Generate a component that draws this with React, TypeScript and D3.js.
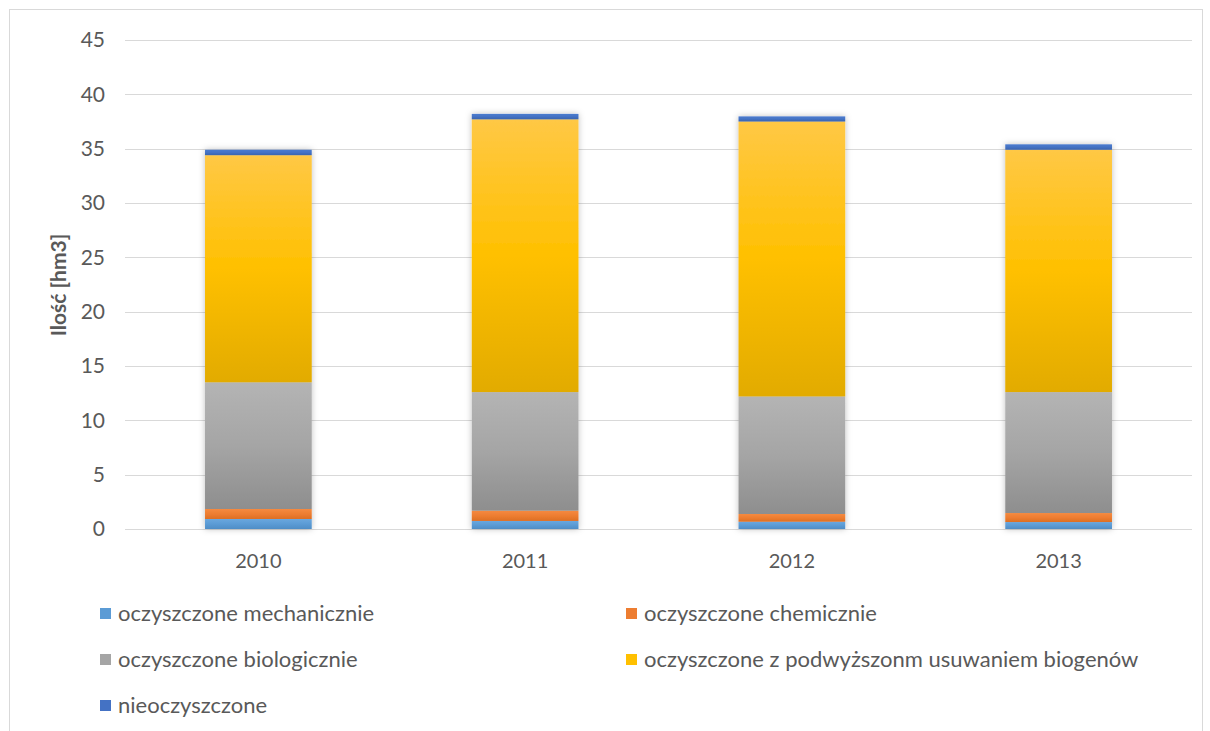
import React from "react";
import * as d3 from "d3";

const years = ["2010", "2011", "2012", "2013"];
const mechaniczne = [0.92, 0.74, 0.67, 0.64];
const chemiczne = [0.92, 0.95, 0.71, 0.83];
const biologiczne = [11.66, 10.91, 10.82, 11.13];
const biogeny = [20.9, 25.1, 25.3, 22.3];
const nieoczyszczone = [0.5, 0.5, 0.47, 0.5];
const yTicks = [0, 5, 10, 15, 20, 25, 30, 35, 40, 45];

const seriesNames = [
  "oczyszczone mechanicznie",
  "oczyszczone chemicznie",
  "oczyszczone biologicznie",
  "oczyszczone z podwyższonm usuwaniem biogenów",
  "nieoczyszczone",
];
const seriesValues = [mechaniczne, chemiczne, biologiczne, biogeny, nieoczyszczone];
const gradStops = [
  ["#6AA7DE", "#5B9BD5", "#4F8DC6"],
  ["#F58A40", "#ED7D31", "#DD6F24"],
  ["#B4B4B4", "#A5A5A5", "#8E8E8E"],
  ["#FFC845", "#FFC000", "#E2AB00"],
  ["#4C7CCF", "#4472C4", "#3A63AE"],
];
const legendColors = ["#5B9BD5", "#ED7D31", "#A5A5A5", "#FFC000", "#4472C4"];

const FONT = "Lato, 'Open Sans', sans-serif";

export default function App() {
  const plotLeft = 125;
  const plotRight = 1192;
  const y = d3.scaleLinear().domain([0, 45]).range([529, 40]);
  const x = d3.scaleBand().domain(years).range([plotLeft, plotRight]).padding(0);
  const barW = x.bandwidth() * 0.4;

  const rows = years.map((yr, i) => {
    const r: any = { year: yr };
    seriesNames.forEach((s, k) => (r[s] = seriesValues[k][i]));
    return r;
  });
  const stacked = d3.stack().keys(seriesNames)(rows);

  const legendPos = [
    [100, 613],
    [626, 613],
    [100, 659],
    [626, 659],
    [100, 705],
  ];

  return (
    <svg
      width={1210}
      height={731}
      style={{ position: "absolute", left: 0, top: 0, background: "#fff" }}
    >
      <defs>
        {gradStops.map((g, k) => (
          <linearGradient key={k} id={`g${k}`} x1="0" y1="0" x2="0" y2="1">
            <stop offset="0%" stopColor={g[0]} />
            <stop offset="50%" stopColor={g[1]} />
            <stop offset="100%" stopColor={g[2]} />
          </linearGradient>
        ))}
        <filter id="shadow" x="-20%" y="-5%" width="140%" height="110%">
          <feDropShadow dx="0" dy="0" stdDeviation="3" floodColor="#000" floodOpacity="0.25" />
        </filter>
      </defs>
      <rect x={9.5} y={9.5} width={1193} height={740} fill="#fff" stroke="#D9D9D9" strokeWidth={1} />
      {yTicks.map((t) => (
        <g key={t}>
          <line
            x1={plotLeft}
            x2={plotRight}
            y1={Math.round(y(t)) + 0.5}
            y2={Math.round(y(t)) + 0.5}
            stroke="#D9D9D9"
            strokeWidth={1}
          />
          <text
            x={105}
            y={y(t)}
            dy="0.35em"
            textAnchor="end"
            fontFamily={FONT}
            fontSize={21}
            fill="#595959"
          >
            {t}
          </text>
        </g>
      ))}
      <text
        transform={`translate(66,285) rotate(-90)`}
        textAnchor="middle"
        fontFamily={FONT}
        fontSize={21}
        fontWeight="bold"
        fill="#595959"
      >
        Ilość [hm3]
      </text>
      <g filter="url(#shadow)">
        {stacked.map((layer, k) => (
          <g key={k}>
            {layer.map((d, i) => {
              const cx = (x(years[i]) as number) + x.bandwidth() / 2;
              return (
                <rect
                  key={i}
                  x={cx - barW / 2}
                  y={y(d[1])}
                  width={barW}
                  height={y(d[0]) - y(d[1])}
                  fill={`url(#g${k})`}
                />
              );
            })}
          </g>
        ))}
      </g>
      {years.map((yr) => (
        <text
          key={yr}
          x={(x(yr) as number) + x.bandwidth() / 2}
          y={561}
          dy="0.35em"
          textAnchor="middle"
          fontFamily={FONT}
          fontSize={20}
          fill="#595959"
        >
          {yr}
        </text>
      ))}
      {seriesNames.map((s, k) => (
        <g key={s}>
          <rect x={legendPos[k][0]} y={legendPos[k][1] - 5} width={11} height={11} fill={legendColors[k]} />
          <text
            x={legendPos[k][0] + 18}
            y={legendPos[k][1]}
            dy="0.35em"
            fontFamily={FONT}
            fontSize={22}
            fill="#595959"
          >
            {s}
          </text>
        </g>
      ))}
    </svg>
  );
}
